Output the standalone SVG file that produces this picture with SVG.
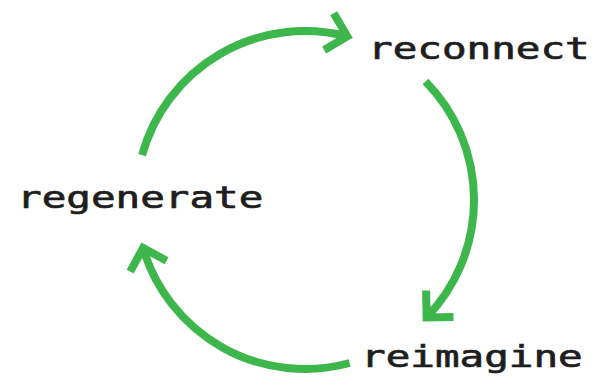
<svg xmlns="http://www.w3.org/2000/svg" width="595" height="376" viewBox="0 0 595 376">
<style>
.arc{fill:none;stroke:#3db64b;stroke-width:8;stroke-linecap:butt}
.lbl{font-family:"DejaVu Sans Mono","Liberation Mono",monospace;font-weight:normal;font-size:31px;fill:#1e1e1e;stroke:#1e1e1e;stroke-width:0.7px}
</style>
<defs>
<marker id="ah" markerUnits="userSpaceOnUse" orient="auto" viewBox="-30 -30 40 60" refX="0" refY="0" markerWidth="40" markerHeight="60" overflow="visible">
<path d="M-19,-19 L0,0 L-19,19" fill="none" stroke="#3db64b" stroke-width="8" stroke-linejoin="miter"/>
</marker>
</defs>
<rect width="595" height="376" fill="#fff"/>
<g id="connectors">
<path class="arc" d="M142.1,155.1 A169,169 0 0 1 347.3,36.4" marker-end="url(#ah)"/>
<path class="arc" d="M425.5,81.5 A169,169 0 0 1 426.6,317.4" marker-end="url(#ah)"/>
<path class="arc" d="M349.6,363 A169,169 0 0 1 143,248" marker-end="url(#ah)"/>
</g>
<g id="reconnect" transform="translate(368,59) scale(1.32,1)"><text class="lbl" x="0" y="0">reconnect</text></g>
<g id="regenerate" transform="translate(17,208) scale(1.32,1)"><text class="lbl" x="0" y="0">regenerate</text></g>
<g id="reimagine" transform="translate(361,367) scale(1.32,1)"><text class="lbl" x="0" y="0">reimagine</text></g>
</svg>
